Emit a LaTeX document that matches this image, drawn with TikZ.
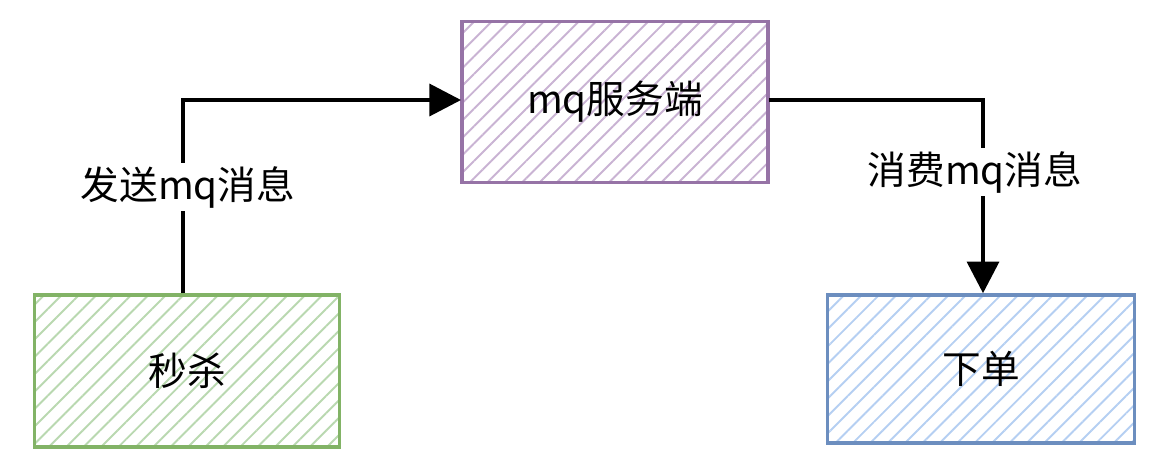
\documentclass[tikz,border=0pt]{standalone}
\usepackage{fontspec}
\setmainfont{Noto Sans CJK SC}
\usetikzlibrary{patterns.meta,arrows.meta}
\definecolor{pstroke}{HTML}{9673A6}\definecolor{pfill}{HTML}{C9B3D3}
\definecolor{gstroke}{HTML}{82B366}\definecolor{gfill}{HTML}{B9D8B0}
\definecolor{bstroke}{HTML}{6C8EBF}\definecolor{bfill}{HTML}{B5CFF2}
\tikzset{
 box/.style={draw=#1stroke,line width=2pt,minimum width=6.1cm,
  pattern={Lines[angle=45,distance=7pt,line width=1.1pt]},pattern color=#1fill},
 conn/.style={line width=2.6pt,-{Triangle[length=18pt,width=18pt]}},
 txt/.style={font=\fontsize{22}{26}\selectfont},
 lbl/.style={txt,fill=white,inner sep=2pt}
}
\begin{document}
\begin{tikzpicture}[x=0.02cm,y=-0.02cm]
\useasboundingbox (0,0) rectangle (1165,461);
\node[box=p,minimum width=6.12cm,minimum height=3.22cm] (mq) at (615,102) {};
\node[box=g,minimum width=6.1cm,minimum height=3.04cm] (ms) at (187,371) {};
\node[box=b,minimum width=6.14cm,minimum height=2.96cm] (xd) at (981,369) {};
\node[txt] at (mq) {mq服务端};
\node[txt] at (ms) {秒杀};
\node[txt] at (xd) {下单};
\coordinate (c1) at (183,100);
\coordinate (c2) at (983,100);
\draw[conn] (ms.north -| c1) -- (c1) -- (mq.west |- c1);
\draw[conn] (mq.east |- c2) -- (c2) -- (xd.north -| c2);
\node[lbl] (l1) at (188,187) {发送mq消息};
\node[lbl] (l2) at (975,172) {消费mq消息};
\end{tikzpicture}
\end{document}
